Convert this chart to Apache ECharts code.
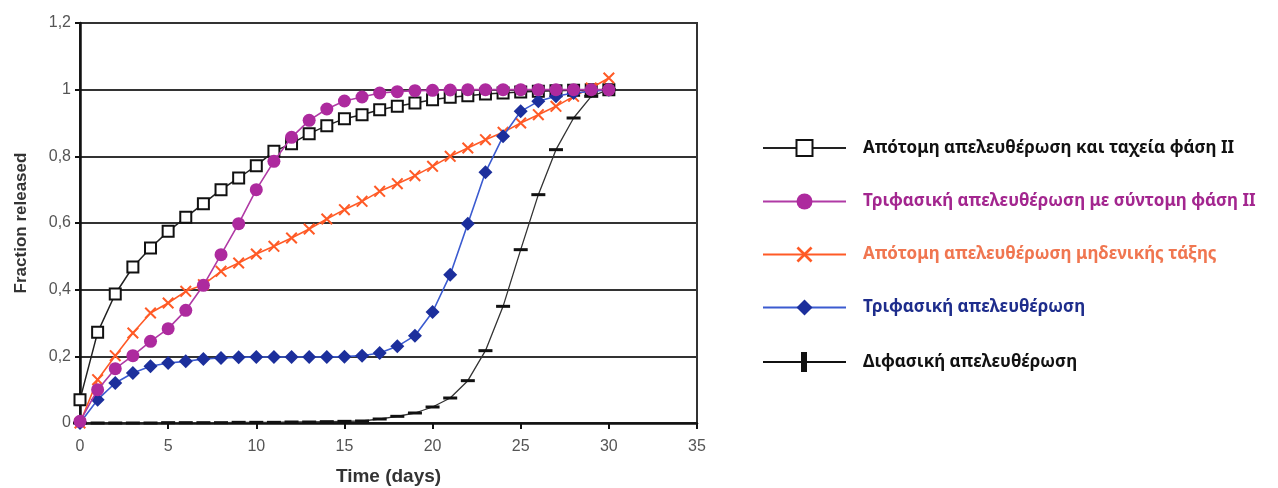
<!DOCTYPE html>
<html>
<head>
<meta charset="utf-8">
<script src="https://cdn.jsdelivr.net/npm/echarts@6/dist/echarts.min.js"></script>
<style>html,body{margin:0;padding:0;background:#fff}#c{width:1278px;height:488px}</style>
</head>
<body>
<div id="c"></div>
<script>
const days = [0,1,2,3,4,5,6,7,8,9,10,11,12,13,14,15,16,17,18,19,20,21,22,23,24,25,26,27,28,29,30];
const yTickLabels = ['0','0,2','0,4','0,6','0,8','1','1,2'];
const xTickLabels = ['0','5','10','15','20','25','30','35'];
const seriesNames = [
  'Απότομη απελευθέρωση και ταχεία φάση II',
  'Τριφασική απελευθέρωση με σύντομη φάση II',
  'Απότομη απελευθέρωση μηδενικής τάξης',
  'Τριφασική απελευθέρωση',
  'Διφασική απελευθέρωση'
];
const burstFast = [0.07,0.272,0.387,0.468,0.525,0.575,0.617,0.658,0.70,0.735,0.772,0.815,0.838,0.868,0.892,0.913,0.925,0.94,0.95,0.96,0.97,0.977,0.982,0.987,0.99,0.993,0.995,0.997,0.998,1.0,1.0];
const triShort = [0.005,0.10,0.163,0.202,0.245,0.283,0.338,0.413,0.505,0.598,0.70,0.785,0.857,0.908,0.942,0.966,0.978,0.99,0.994,0.997,0.998,0.999,1.0,1.0,1.0,1.0,1.0,1.0,1.0,1.0,1.0];
const zeroOrder = [0,0.13,0.202,0.27,0.33,0.36,0.395,0.415,0.455,0.48,0.507,0.53,0.555,0.582,0.612,0.64,0.665,0.695,0.718,0.742,0.77,0.80,0.825,0.85,0.872,0.90,0.925,0.95,0.98,1.005,1.035];
const triphasic = [0,0.07,0.12,0.15,0.17,0.18,0.185,0.192,0.195,0.197,0.198,0.198,0.198,0.198,0.198,0.199,0.202,0.21,0.23,0.262,0.333,0.445,0.598,0.752,0.86,0.935,0.965,0.98,0.99,0.995,1.0];
const diphasic = [0,0,0,0,0,0.001,0.001,0.001,0.001,0.002,0.002,0.002,0.003,0.003,0.004,0.005,0.006,0.012,0.02,0.03,0.048,0.075,0.127,0.217,0.35,0.52,0.685,0.82,0.915,0.98,1.0];

const pair = arr => days.map((d,i)=>[d,arr[i]]);
const xPath = 'path://M0,1.2 L1.2,0 L10,8.8 L8.8,10 Z M8.8,0 L10,1.2 L1.2,10 L0,8.8 Z';
const dashPath = 'path://M0,0 L14,0 L14,3 L0,3 Z';
const legendBarIcon = 'path://M0,9 L83,9 L83,11 L0,11 Z M38,0 L44,0 L44,20 L38,20 Z';

const chart = echarts.init(document.getElementById('c'), null, {renderer:'canvas'});
const font = 'Liberation Sans, Arial, sans-serif';
chart.setOption({
  backgroundColor:'#fff',
  animation:false,
  grid:{left:80, top:23, right:581, bottom:65, outerBoundsMode:'none', containLabel:false, show:true, borderColor:'#333', borderWidth:2, backgroundColor:'transparent'},
  xAxis:{
    type:'value', min:0, max:35, interval:5,
    name:'Time (days)', nameLocation:'middle', nameGap:44,
    nameTextStyle:{fontFamily:font, fontWeight:'bold', fontSize:19, color:'#333'},
    axisLine:{show:true, onZero:false, lineStyle:{color:'#111', width:2.5}},
    axisTick:{show:true, length:6, lineStyle:{color:'#111', width:2}},
    axisLabel:{fontFamily:font, fontSize:16, color:'#555', margin:16, formatter:(v)=>xTickLabels[Math.round(v/5)]},
    splitLine:{show:false}
  },
  yAxis:{
    type:'value', min:0, max:1.2, interval:0.2,
    name:'Fraction released', nameLocation:'middle', nameGap:50, nameRotate:90,
    nameTextStyle:{fontFamily:font, fontWeight:'bold', fontSize:17, color:'#333'},
    axisLine:{show:true, lineStyle:{color:'#111', width:2.5}},
    axisTick:{show:true, length:5, lineStyle:{color:'#111', width:2}},
    axisLabel:{fontFamily:font, fontSize:16, color:'#555', margin:9, formatter:(v)=>yTickLabels[Math.round(v/0.2)]},
    splitLine:{show:true, lineStyle:{color:'#333', width:2}}
  },
  legend:{
    orient:'vertical', left:757, top:134, itemWidth:83, itemHeight:20, itemGap:36,
    lineStyle:{width:2},
    textStyle:{fontFamily:'Noto Sans, Open Sans, sans-serif', fontWeight:'bold', fontSize:17, padding:[0,0,0,12]},
    data:[
      {name:seriesNames[0], textStyle:{color:'#111'}},
      {name:seriesNames[1], textStyle:{color:'#a3268f'}},
      {name:seriesNames[2], textStyle:{color:'#f07650'}},
      {name:seriesNames[3], textStyle:{color:'#1e2d8c'}},
      {name:seriesNames[4], icon:legendBarIcon, textStyle:{color:'#111'}}
    ]
  },
  series:[
    {name:seriesNames[0], type:'line', data:pair(burstFast), z:3,
     symbol:'emptyRect', symbolSize:11, color:'#111',
     lineStyle:{color:'#222', width:1.5}, itemStyle:{color:'#111', borderWidth:1.6}},
    {name:seriesNames[2], type:'line', data:pair(zeroOrder), z:4,
     symbol:xPath, symbolSize:12, color:'#ff5a26',
     lineStyle:{color:'#ff5a26', width:1.6}, itemStyle:{color:'#ff5a26'}},
    {name:seriesNames[3], type:'line', data:pair(triphasic), z:5,
     symbol:'diamond', symbolSize:14, color:'#1c2f9c',
     lineStyle:{color:'#3b5bd0', width:1.6}, itemStyle:{color:'#1c2f9c'}},
    {name:seriesNames[4], type:'line', data:pair(diphasic), z:5,
     symbol:dashPath, symbolSize:[14,3], symbolKeepAspect:false, color:'#111',
     lineStyle:{color:'#333', width:1.3}, itemStyle:{color:'#111'}},
    {name:seriesNames[1], type:'line', data:pair(triShort), z:6,
     symbol:'circle', symbolSize:13, color:'#ad2a9e',
     lineStyle:{color:'#b03aa5', width:1.6}, itemStyle:{color:'#ad2a9e'}}
  ]
});
</script>
</body>
</html>
